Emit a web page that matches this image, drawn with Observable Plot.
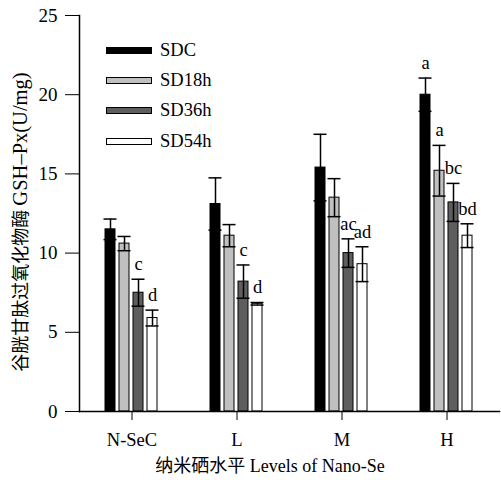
<!DOCTYPE html>
<html><head><meta charset="utf-8">
<script src="https://cdn.jsdelivr.net/npm/d3@7"></script>
<script src="https://cdn.jsdelivr.net/npm/@observablehq/plot@0.6"></script>
<style>
body{margin:0;background:#fff;}
#wrap{position:relative;width:501px;height:480px;font-family:"Liberation Serif","Times New Roman","Noto Sans CJK SC",serif;color:#000;}
#wrap svg{position:absolute;left:0;top:0;}
.lg{position:absolute;left:106px;display:flex;align-items:center;font-family:"Liberation Serif","Times New Roman",serif;font-size:18.5px;height:20px;line-height:20px;}
.sw{width:44px;height:5px;border:1px solid #000;margin-right:8px;}
#ylab{position:absolute;left:20px;top:222px;transform:translate(-50%,-50%) rotate(-90deg);white-space:nowrap;line-height:22px;}
#xlab{position:absolute;left:270px;top:465px;transform:translate(-50%,-50%);white-space:nowrap;font-size:18px;line-height:22px;}
.zh{font-family:"Noto Sans CJK SC",sans-serif;font-size:18px;}
.en{font-family:"Liberation Serif","Times New Roman",serif;}
</style></head><body><div id="wrap"></div>
<script>
const levels = ["N-SeC", "L", "M", "H"];
const series = ["SDC", "SD18h", "SD36h", "SD54h"];
const fills = ["#000000", "#c0c0c0", "#5e5e5e", "#ffffff"];
const yTicks = [0, 5, 10, 15, 20, 25];

const sdc      = [11.5, 13.1, 15.4, 20.0];
const sdcErr   = [0.65, 1.65, 2.1, 1.05];
const sd18     = [10.6, 11.1, 13.5, 15.2];
const sd18Err  = [0.45, 0.7, 1.2, 1.6];
const sd36     = [7.5, 8.2, 10.0, 13.2];
const sd36Err  = [0.85, 1.05, 0.9, 1.2];
const sd54     = [5.9, 6.8, 9.3, 11.1];
const sd54Err  = [0.5, 0.08, 1.1, 0.75];
const sdcLab   = ["", "", "", "a"];
const sd18Lab  = ["", "", "", "a"];
const sd36Lab  = ["c", "c", "ac", "bc"];
const sd54Lab  = ["d", "d", "ad", "bd"];

const vals = [sdc, sd18, sd36, sd54];
const errs = [sdcErr, sd18Err, sd36Err, sd54Err];
const labs = [sdcLab, sd18Lab, sd36Lab, sd54Lab];

const rows = [];
levels.forEach((lv, i) => series.forEach((s, j) => rows.push({
  level: lv, series: s, value: vals[j][i], err: errs[j][i], label: labs[j][i]
})));

const font = '"Liberation Serif","Times New Roman",serif';
const chart = Plot.plot({
  width: 501, height: 480,
  marginTop: 15, marginBottom: 69, marginLeft: 77, marginRight: 1,
  style: {fontFamily: font, fontSize: "18.5px", color: "#000", background: "transparent"},
  fx: {domain: levels, padding: 0, label: null, tickSize: 9, tickPadding: 12, axis: "bottom"},
  x: {domain: series, axis: null, paddingInner: 0.27, paddingOuter: 1.83},
  y: {domain: [0, 25], axis: null},
  color: {domain: series, range: fills},
  marks: [
    Plot.axisY(yTicks, {tickSize: 14, tickPadding: 8, label: null, fontSize: 19, fontFamily: font}),
    Plot.barY(rows, {fx: "level", x: "series", y: "value", fill: "series", stroke: "#000", strokeWidth: 1}),
    Plot.ruleX(rows, {fx: "level", x: "series", y1: d => d.value - d.err, y2: d => d.value + d.err, stroke: "#000", strokeWidth: 1.5}),
    Plot.tickY(rows, {fx: "level", x: "series", y: d => d.value - d.err, stroke: "#000", strokeWidth: 1.5, insetLeft: -1.5, insetRight: -1.5}),
    Plot.tickY(rows, {fx: "level", x: "series", y: d => d.value + d.err, stroke: "#000", strokeWidth: 1.5, insetLeft: -1.5, insetRight: -1.5}),
    Plot.text(rows, {fx: "level", x: "series", y: d => d.value + d.err, text: "label", dy: -15, fontSize: 18.5, fontFamily: font, fill: "#000"}),
    Plot.frame({anchor: "left", facet: "super", stroke: "#000", strokeWidth: 1.5}),
    Plot.frame({anchor: "bottom", facet: "super", stroke: "#000", strokeWidth: 1.5})
  ]
});
const wrap = document.getElementById("wrap");
wrap.appendChild(chart);

const legendY = [50, 80, 110, 141];
series.forEach((s, j) => {
  const d = document.createElement("div");
  d.className = "lg";
  d.style.top = (legendY[j] - 10) + "px";
  d.innerHTML = `<div class="sw" style="background:${fills[j]}"></div><span>${s}</span>`;
  wrap.appendChild(d);
});
const yl = document.createElement("div"); yl.id = "ylab";
yl.innerHTML = '<span class="zh">谷胱甘肽过氧化物酶</span> <span class="en" style="font-size:20.5px">GSH–Px(U/mg)</span>';
wrap.appendChild(yl);
const xl = document.createElement("div"); xl.id = "xlab";
xl.innerHTML = '<span class="zh">纳米硒水平</span> <span class="en">Levels of Nano-Se</span>';
wrap.appendChild(xl);
</script></body></html>
